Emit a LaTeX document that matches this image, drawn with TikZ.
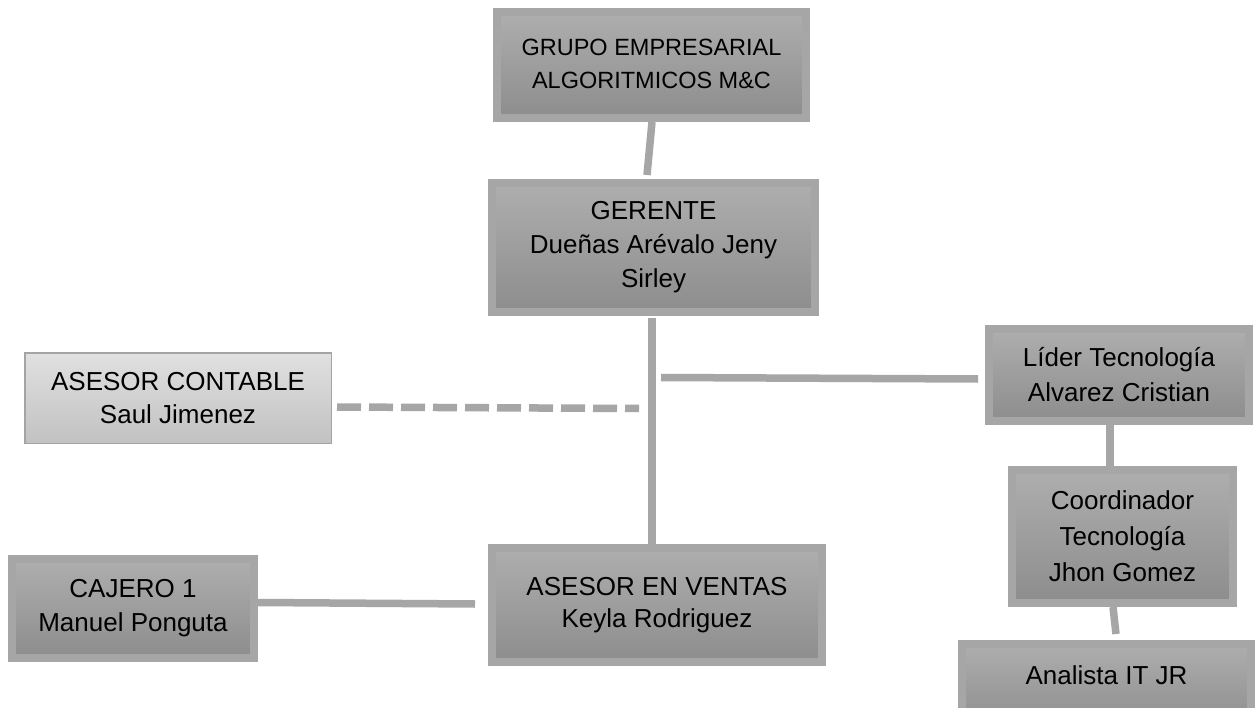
\documentclass[tikz,border=0pt]{standalone}
\usepackage{fontspec}
\setmainfont{Liberation Sans}
\definecolor{linegray}{HTML}{A6A6A6}
\definecolor{edgegray}{HTML}{A6A6A6}
\definecolor{topgray}{HTML}{AEAEAE}
\definecolor{botgray}{HTML}{8D8D8D}
\definecolor{ltop}{HTML}{E0E0E0}
\definecolor{lbot}{HTML}{C2C2C2}
\definecolor{ledge}{HTML}{A4A4A4}
\tikzset{
  orgbox/.style={rectangle, draw=edgegray, line width=8pt, outer sep=4pt,
    top color=topgray, bottom color=botgray, inner sep=0pt, align=center,
    text=black, font=\fontsize{26}{34}\selectfont},
  lightbox/.style={rectangle, draw=ledge, line width=1.5pt, outer sep=0.75pt,
    top color=ltop, bottom color=lbot, inner sep=0pt, align=center,
    text=black, font=\fontsize{26}{33}\selectfont},
  link/.style={draw=linegray, line width=7.5pt},
  dlink/.style={link, dash pattern=on 24pt off 8pt},
}
\begin{document}
\begin{tikzpicture}[x=1pt,y=-1pt]
\useasboundingbox (0,0) rectangle (1257,708);
\fill[white] (0,0) rectangle (1257,708);
\clip (0,0) rectangle (1257,708);

\node[orgbox, minimum width=309pt, minimum height=106pt] (grupo) at (651.5,65)
  {\fontsize{23.5}{33}\selectfont\raisebox{14pt}{\begin{tabular}{@{}c@{}}GRUPO EMPRESARIAL\\ALGORITMICOS M\&C\end{tabular}}};
\node[orgbox, minimum width=323pt, minimum height=129pt] (gerente) at (653.5,247.5)
  {GERENTE\\Dueñas Arévalo Jeny\\Sirley};
\node[lightbox, minimum width=306.5pt, minimum height=90.5pt] (contable) at (178,398)
  {ASESOR CONTABLE\\Saul Jimenez};
\node[orgbox, minimum width=260pt, minimum height=92pt, font=\fontsize{26}{35}\selectfont] (lider) at (1119,375)
  {Líder Tecnología\\Alvarez Cristian};
\node[orgbox, minimum width=221pt, minimum height=133pt, font=\fontsize{26}{36}\selectfont] (coord) at (1122.5,536.5)
  {Coordinador\\Tecnología\\Jhon Gomez};
\node[orgbox, minimum width=289pt, minimum height=84pt] (analista) at (1106.5,686)
  {\raisebox{22pt}{Analista IT JR}};
\node[orgbox, minimum width=242pt, minimum height=99pt] (cajero) at (133,608.5)
  {CAJERO 1\\Manuel Ponguta};
\node[orgbox, minimum width=330pt, minimum height=114pt, font=\fontsize{26}{32}\selectfont] (ventas) at (657,605)
  {ASESOR EN VENTAS\\Keyla Rodriguez};

\coordinate (hj) at (661,377.5);
\coordinate (dj) at (639,408.5);

\draw[link] ([xshift=0.5pt]grupo.south) -- ([xshift=-6.5pt,yshift=4pt]gerente.north);
\draw[link] ([xshift=-1.5pt,yshift=-2pt]gerente.south) -- ([xshift=-5pt]ventas.north);
\draw[link] (hj) -- ([xshift=-7pt,yshift=-4pt]lider.west);
\draw[dlink] ([xshift=5pt,yshift=-9pt]contable.east) -- (dj);
\draw[link] ([yshift=6pt]cajero.east) -- ([xshift=-13pt,yshift=1pt]ventas.west);
\draw[link] ([xshift=-9pt]lider.south) -- ([xshift=-12.5pt]coord.north);
\draw[link] ([xshift=-9.5pt]coord.south) -- ([xshift=9.5pt,yshift=6pt]analista.north);
\end{tikzpicture}
\end{document}
